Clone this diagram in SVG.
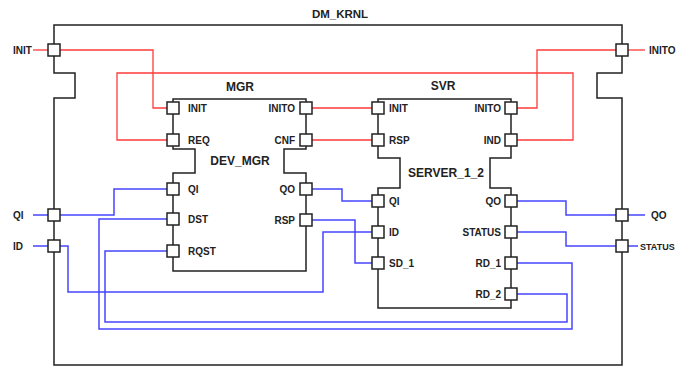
<svg xmlns="http://www.w3.org/2000/svg" width="686" height="369" viewBox="0 0 686 369">
<style>
.box{fill:none;stroke:#222;stroke-width:1.5}
.port{fill:#fff;stroke:#222;stroke-width:1.5}
.red{fill:none;stroke:#ff3a3a;stroke-width:1.3}
.blue{fill:none;stroke:#4646ff;stroke-width:1.5}
text{font-family:"Liberation Sans",Arial,sans-serif;font-weight:bold;fill:#222}
.pl{font-size:10px}
.pr{font-size:10px;text-anchor:end}
.t{font-size:12px;text-anchor:middle}
</style>
<rect width="686" height="369" fill="#fff"/>
<g id="connectors">
  <path class="red" d="M33,50 H48"/>
  <path class="red" d="M628,50 H645"/>
  <path class="red" d="M60,50 H153 V108 H167"/>
  <path class="red" d="M167,140 H117 V73 H573 V140 H517"/>
  <path class="red" d="M312,108 H372"/>
  <path class="red" d="M312,140 H372"/>
  <path class="red" d="M517,108 H537 V50 H616"/>
  <path class="blue" d="M33,215 H48"/>
  <path class="blue" d="M33,246 H48"/>
  <path class="blue" d="M628,215 H645"/>
  <path class="blue" d="M628,246 H638"/>
  <path class="blue" d="M60,215 H114 V189 H167"/>
  <path class="blue" d="M60,246 H68 V292 H323 V232 H372"/>
  <path class="blue" d="M167,219 H99 V329 H572 V263 H517"/>
  <path class="blue" d="M167,251 H105 V322 H567 V294 H517"/>
  <path class="blue" d="M312,189 H342 V201 H372"/>
  <path class="blue" d="M312,220 H355 V263 H372"/>
  <path class="blue" d="M517,201 H566 V215 H616"/>
  <path class="blue" d="M517,232 H566 V246 H616"/>
</g>
<g id="DM_KRNL">
  <path class="box" d="M54,25 H622 V73 H597 V98 H622 V365 H54 V98 H75 V73 H54 Z"/>
  <text class="t" x="340" y="18" style="font-size:11.5px">DM_KRNL</text>
  <rect class="port" x="48" y="44" width="12" height="12"/>
  <rect class="port" x="616" y="44" width="12" height="12"/>
  <rect class="port" x="48" y="209" width="12" height="12"/>
  <rect class="port" x="48" y="240" width="12" height="12"/>
  <rect class="port" x="616" y="209" width="12" height="12"/>
  <rect class="port" x="616" y="240" width="12" height="12"/>
  <text class="pl" x="13" y="54">INIT</text>
  <text class="pl" x="649" y="54">INITO</text>
  <text class="pl" x="13" y="219">QI</text>
  <text class="pl" x="13" y="250">ID</text>
  <text class="pl" x="651" y="219">QO</text>
  <text class="pl" x="640" y="250" style="font-size:9px">STATUS</text>
</g>
<g id="MGR">
  <path class="box" d="M173,99 H306 V149 H284 V173 H306 V271 H173 V173 H195 V149 H173 Z"/>
  <text class="t" x="240" y="91">MGR</text>
  <text class="t" x="240" y="165">DEV_MGR</text>
  <rect class="port" x="167" y="102" width="12" height="12"/>
  <rect class="port" x="167" y="134" width="12" height="12"/>
  <rect class="port" x="167" y="183" width="12" height="12"/>
  <rect class="port" x="167" y="213" width="12" height="12"/>
  <rect class="port" x="167" y="245" width="12" height="12"/>
  <rect class="port" x="300" y="102" width="12" height="12"/>
  <rect class="port" x="300" y="134" width="12" height="12"/>
  <rect class="port" x="300" y="183" width="12" height="12"/>
  <rect class="port" x="300" y="214" width="12" height="12"/>
  <text class="pl" x="188" y="112">INIT</text>
  <text class="pl" x="188" y="144">REQ</text>
  <text class="pl" x="188" y="193">QI</text>
  <text class="pl" x="188" y="223">DST</text>
  <text class="pl" x="188" y="255">RQST</text>
  <text class="pr" x="295" y="112">INITO</text>
  <text class="pr" x="295" y="144">CNF</text>
  <text class="pr" x="295" y="193">QO</text>
  <text class="pr" x="295" y="224">RSP</text>
</g>
<g id="SVR">
  <path class="box" d="M378,99 H511 V158 H490 V188 H511 V308 H378 V188 H400 V158 H378 Z"/>
  <text class="t" x="443" y="90">SVR</text>
  <text class="t" x="446" y="177">SERVER_1_2</text>
  <rect class="port" x="372" y="102" width="12" height="12"/>
  <rect class="port" x="372" y="134" width="12" height="12"/>
  <rect class="port" x="372" y="195" width="12" height="12"/>
  <rect class="port" x="372" y="226" width="12" height="12"/>
  <rect class="port" x="372" y="257" width="12" height="12"/>
  <rect class="port" x="505" y="102" width="12" height="12"/>
  <rect class="port" x="505" y="134" width="12" height="12"/>
  <rect class="port" x="505" y="195" width="12" height="12"/>
  <rect class="port" x="505" y="226" width="12" height="12"/>
  <rect class="port" x="505" y="257" width="12" height="12"/>
  <rect class="port" x="505" y="288" width="12" height="12"/>
  <text class="pl" x="389" y="112">INIT</text>
  <text class="pl" x="389" y="144">RSP</text>
  <text class="pl" x="389" y="205">QI</text>
  <text class="pl" x="389" y="236">ID</text>
  <text class="pl" x="389" y="267">SD_1</text>
  <text class="pr" x="501" y="112">INITO</text>
  <text class="pr" x="501" y="144">IND</text>
  <text class="pr" x="501" y="205">QO</text>
  <text class="pr" x="501" y="236">STATUS</text>
  <text class="pr" x="501" y="267">RD_1</text>
  <text class="pr" x="501" y="298">RD_2</text>
</g>
</svg>
